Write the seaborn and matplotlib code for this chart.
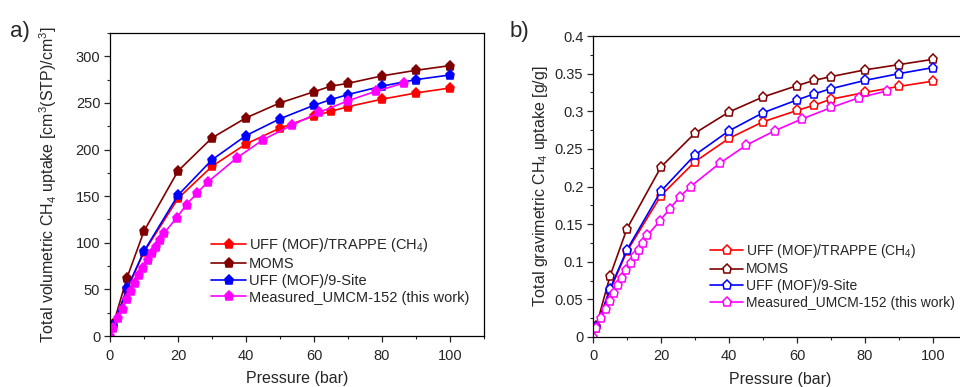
import numpy as np
import pandas as pd
import matplotlib
matplotlib.use("Agg")
import matplotlib.pyplot as plt
import seaborn as sns
from matplotlib.ticker import MultipleLocator

sns.set_style("ticks")
plt.rcParams['font.family'] = ['Liberation Sans', 'DejaVu Sans']
plt.rcParams['mathtext.default'] = 'regular'

# ---------------- data ----------------
sim_p = [1, 5, 10, 20, 30, 40, 50, 60, 65, 70, 80, 90, 100]

vol_uff_trappe = [10, 50, 90, 147.5, 182, 206, 223, 236, 241, 246, 254, 260.7, 266]
vol_moms = [13, 62.5, 112.5, 177, 212.5, 234, 250, 262, 268, 271, 279, 285, 290]
vol_uff_9site = [11, 51, 91, 151, 189, 215, 233, 247.5, 253.6, 259, 268, 275, 280]

meas_p = [0, 1.0, 2.45, 3.7, 4.9, 6.2, 7.35, 8.6, 9.8, 11.1, 12.25, 13.5, 14.7, 16.0,
          19.6, 22.5, 25.5, 28.7, 37.3, 45.1, 53.4, 61.6, 70.1, 78.2, 86.5]
vol_measured = [0, 8.9, 19.6, 29.3, 39.3, 48.2, 57.1, 65, 73.2, 81, 88.6, 95.4, 102.9, 110.7,
                126.8, 141, 152.9, 165, 191, 210.7, 226, 240, 252.5, 262.5, 271.4]

grav_uff_trappe = [0.012, 0.062, 0.114, 0.188, 0.233, 0.264, 0.286, 0.301, 0.308, 0.316, 0.325, 0.333, 0.340]
grav_moms = [0.015, 0.081, 0.144, 0.226, 0.271, 0.299, 0.319, 0.334, 0.341, 0.346, 0.355, 0.362, 0.369]
grav_uff_9site = [0.013, 0.064, 0.116, 0.194, 0.242, 0.274, 0.298, 0.315, 0.323, 0.330, 0.341, 0.350, 0.358]
grav_measured = [0, 0.0115, 0.025, 0.037, 0.048, 0.058, 0.069, 0.079, 0.089, 0.099, 0.1075, 0.116, 0.125, 0.135,
                 0.154, 0.170, 0.186, 0.200, 0.231, 0.255, 0.274, 0.290, 0.305, 0.318, 0.327]

labels = ["UFF (MOF)/TRAPPE (CH$_4$)", "MOMS", "UFF (MOF)/9-Site", "Measured_UMCM-152 (this work)"]
colors = ["#FF0000", "#800000", "#0000FF", "#FF00FF"]

# ---------------- figure ----------------
W, H = 960, 387
fig = plt.figure(figsize=(W / 100, H / 100), dpi=100)

def px_axes(l, t, r, b):
    return fig.add_axes([l / W, 1 - b / H, (r - l) / W, (b - t) / H])

axA = px_axes(110, 33, 484, 336)
axB = px_axes(593, 36, 967, 337)

def draw(ax, series, filled):
    xs = [sim_p, sim_p, sim_p, meas_p]
    for x, y, lab, c in zip(xs, series, labels, colors):
        df = pd.DataFrame({"p": x, "v": y})
        sns.lineplot(data=df, x="p", y="v", ax=ax, color=c, label=lab,
                     marker="p", markersize=6.5, linewidth=1.2,
                     markeredgecolor=c, markeredgewidth=1.1,
                     markerfacecolor=(c if filled else "white"))

draw(axA, [vol_uff_trappe, vol_moms, vol_uff_9site, vol_measured], True)
draw(axB, [grav_uff_trappe, grav_moms, grav_uff_9site, grav_measured], False)

for ax in (axA, axB):
    ax.set_xlim(0, 110)
    ax.xaxis.set_major_locator(MultipleLocator(20))
    ax.xaxis.set_minor_locator(MultipleLocator(10))
    ax.tick_params(which="major", direction="out", length=4, width=0.9, labelsize=10.5,
                   top=False, right=False, pad=3)
    ax.tick_params(axis="x", which="major", pad=5)
    ax.tick_params(which="minor", direction="out", length=2.5, width=0.8, top=False, right=False)
    for s in ax.spines.values():
        s.set_visible(True)
        s.set_color("black")
        s.set_linewidth(0.9)
    ax.set_xlabel("Pressure (bar)", fontsize=11.5, labelpad=6)

axA.set_ylim(0, 325)
axA.yaxis.set_major_locator(MultipleLocator(50))
axA.yaxis.set_minor_locator(MultipleLocator(25))
axA.set_ylabel("Total volumetric CH$_4$ uptake [cm$^3$(STP)/cm$^3$]", fontsize=11.5, labelpad=12)

axB.set_ylim(0, 0.4)
axB.set_yticks([0, 0.05, 0.1, 0.15, 0.2, 0.25, 0.3, 0.35, 0.4])
axB.set_yticklabels(["0", "0.05", "0.1", "0.15", "0.2", "0.25", "0.3", "0.35", "0.4"])
axB.yaxis.set_minor_locator(MultipleLocator(0.025))
axB.set_ylabel("Total gravimetric CH$_4$ uptake [g/g]", fontsize=11.5, labelpad=3)

leg_kw = dict(frameon=False, handlelength=2.4, handletextpad=0.2,
              labelspacing=0.2, borderaxespad=0, loc="upper left")
axA.legend(bbox_to_anchor=(0.255, 0.35), fontsize=10.5, **leg_kw)
axB.legend(bbox_to_anchor=(0.298, 0.335), fontsize=10, **leg_kw)

fig.text(10 / W, 1 - 32 / H, "a)", fontsize=16, va="center", ha="left")
fig.text(510 / W, 1 - 32 / H, "b)", fontsize=16, va="center", ha="left")

fig.savefig("out.png", dpi=100)
